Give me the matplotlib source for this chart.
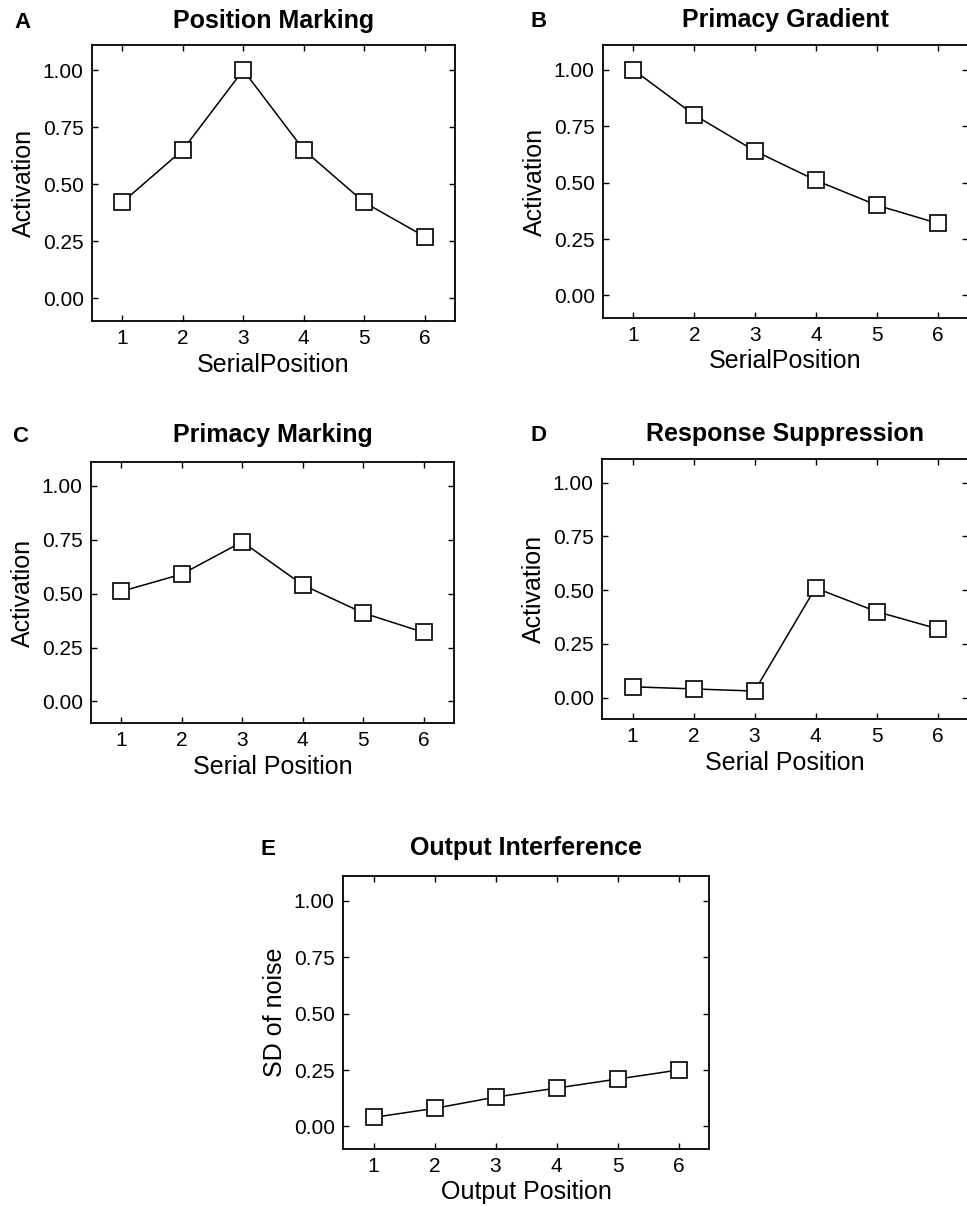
#!/usr/bin/env python3
"""Five-panel figure of activation / noise gradients across list positions."""

import matplotlib
matplotlib.use("Agg")
import matplotlib.pyplot as plt
from matplotlib.ticker import FixedLocator

plt.rcParams.update({
    "font.family": ["Liberation Sans", "DejaVu Sans"],
    "font.size": 13,
    "axes.linewidth": 1.3,
    "xtick.direction": "in",
    "ytick.direction": "in",
    "xtick.top": True,
    "ytick.right": True,
    "xtick.major.size": 4,
    "ytick.major.size": 4,
    "xtick.major.width": 1.0,
    "ytick.major.width": 1.0,
    "xtick.labelsize": 15,
    "ytick.labelsize": 15,
})

positions = [1, 2, 3, 4, 5, 6]
y_ticks = [0.0, 0.25, 0.5, 0.75, 1.0]

position_marking = [0.42, 0.65, 1.00, 0.65, 0.42, 0.27]
primacy_gradient = [1.00, 0.80, 0.64, 0.51, 0.40, 0.32]
primacy_marking = [0.51, 0.59, 0.74, 0.54, 0.41, 0.32]
response_suppression = [0.05, 0.04, 0.03, 0.51, 0.40, 0.32]
output_interference = [0.04, 0.08, 0.13, 0.17, 0.21, 0.25]

W, H = 967, 1206

# panel boxes in pixels: left, top, right, bottom
panels = [
    ("A", "Position Marking", "SerialPosition", "Activation",
     position_marking, (92, 45, 455, 321), 28),
    ("B", "Primacy Gradient", "SerialPosition", "Activation",
     primacy_gradient, (603, 45, 968, 318), 27),
    ("C", "Primacy Marking", "Serial Position", "Activation",
     primacy_marking, (91, 462, 454, 723), 442),
    ("D", "Response Suppression", "Serial Position", "Activation",
     response_suppression, (602, 459, 968, 719), 441),
    ("E", "Output Interference", "Output Position", "SD of noise",
     output_interference, (343, 876, 709, 1149), 855),
]
letter_x = {"A": 14, "B": 530, "C": 12, "D": 531, "E": 260}

fig = plt.figure(figsize=(W / 100, H / 100), dpi=100)

for letter, title, xlabel, ylabel, values, box, title_y in panels:
    left, top, right, bottom = box
    ax = fig.add_axes([left / W, 1 - bottom / H, (right - left) / W, (bottom - top) / H])
    ax.plot(positions, values, color="black", linewidth=1.1,
            marker="s", markersize=11, markerfacecolor="white",
            markeredgecolor="black", markeredgewidth=1.2, zorder=3)
    ax.set_xlim(0.5, 6.5)
    ax.set_ylim(-0.1, 1.11)
    ax.xaxis.set_major_locator(FixedLocator(positions))
    ax.yaxis.set_major_locator(FixedLocator(y_ticks))
    ax.set_yticklabels([f"{t:.2f}" for t in y_ticks])
    ax.tick_params(axis="both", pad=6)
    ax.set_xlabel(xlabel, fontsize=18, labelpad=3)
    ax.set_ylabel(ylabel, fontsize=18, labelpad=5)

    fig.text((left + right) / 2 / W, 1 - title_y / H, title,
             ha="center", va="baseline", fontsize=18, fontweight="bold")
    fig.text(letter_x[letter] / W, 1 - title_y / H, letter,
             ha="left", va="baseline", fontsize=16, fontweight="bold")

fig.savefig("out.png", dpi=100)
